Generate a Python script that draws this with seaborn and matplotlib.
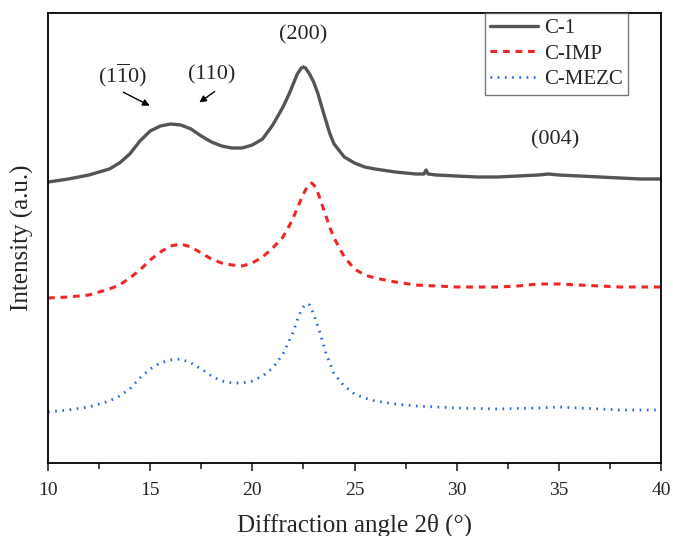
import numpy as np
import pandas as pd
import matplotlib
matplotlib.use("Agg")
import matplotlib.pyplot as plt
import seaborn as sns

# values (intensity in arbitrary units, curves already offset)
c1_x = [10, 11, 12, 12.5, 13, 13.5, 14, 14.5, 15, 15.5, 16, 16.5, 17, 17.5, 18, 18.5, 19, 19.5,
        20, 20.5, 21, 21.5, 21.8, 22, 22.2, 22.4, 22.5, 22.6, 22.8, 23, 23.2, 23.5, 23.8, 24,
        24.5, 25, 25.5, 26, 27, 28, 28.4, 28.5, 28.6, 29, 30, 31, 32, 33, 34, 34.5, 35, 36, 37,
        38, 39, 40]
c1_y = [280, 283, 287, 290, 293, 299, 308, 321, 331, 336, 338, 337, 333, 326, 320, 316, 314, 314,
        317, 323, 337, 355, 368, 378, 388, 394, 395, 394, 388, 380, 369, 348, 328, 318,
        305, 299, 295, 293, 290, 288, 288, 292, 288, 287, 286, 285, 285, 286, 287, 288, 287, 286, 285,
        284, 283, 283]

imp_x = [10, 11, 12, 12.5, 13, 13.5, 14, 14.5, 15, 15.5, 16, 16.5, 17, 17.5, 18, 18.5, 19, 19.5,
         20, 20.5, 21, 21.5, 21.8, 22, 22.2, 22.5, 22.7, 22.9, 23.1, 23.3, 23.5, 23.8, 24, 24.5,
         25, 25.5, 26, 27, 28, 29, 30, 32, 33, 34, 35, 36, 37, 38, 39, 40]
imp_y = [164, 165, 167, 170, 173, 177, 184, 192, 202, 210, 216, 218, 215, 209, 203, 199, 197, 196,
         199, 205, 214, 225, 236, 244, 254, 268, 276, 279, 275, 264, 252, 234, 224, 205,
         193, 187, 184, 180, 177, 176, 175, 175, 176, 178, 178, 177, 176, 175, 175, 175]

mezc_x = [10, 11, 12, 12.5, 13, 13.5, 14, 14.5, 15, 15.5, 16, 16.5, 17, 17.5, 18, 18.5, 19, 19.5,
          20, 20.5, 21, 21.5, 21.8, 22, 22.2, 22.4, 22.6, 22.8, 23, 23.3, 23.6, 24, 24.5, 25,
          25.5, 26, 27, 28, 30, 32, 34, 35, 36, 38, 40]
mezc_y = [50, 52, 55, 58, 61, 66, 73, 84, 93, 99, 102, 103, 99, 93, 86, 81, 79, 79,
          81, 86, 94, 108, 121, 130, 142, 152, 158, 157, 148, 130, 109, 88, 76, 68,
          64, 61, 58, 56, 54, 53, 54, 55, 54, 52, 52]

x_ticks = [10, 15, 20, 25, 30, 35, 40]

sns.set_style("ticks")
plt.rcParams['font.family'] = ['Liberation Serif', 'DejaVu Serif']
plt.rcParams['mathtext.fontset'] = 'custom'
plt.rcParams['mathtext.rm'] = 'Liberation Serif'

fig = plt.figure(figsize=(6.73, 5.36), dpi=100)
ax = fig.add_axes([48 / 673, 1 - 463 / 536, 613 / 673, 450 / 536])

sns.lineplot(x=c1_x, y=c1_y, ax=ax, color='#555555', lw=2.4, label='C-1')
sns.lineplot(x=imp_x, y=imp_y, ax=ax, color='#f02525', lw=2.2, label='C-IMP',
             linestyle=(0, (2.2, 1.9)))
sns.lineplot(x=mezc_x, y=mezc_y, ax=ax, color='#2a6ad8', lw=2.0, label='C-MEZC',
             linestyle=(0, (0.6, 2.0)))

ax.set_xlim(10, 40)
ax.set_ylim(-1, 449)
ax.set_xticks(x_ticks)
ax.set_xticks(np.arange(12.5, 40, 5), minor=True)
ax.set_yticks([])
ax.tick_params(axis='x', which='major', direction='out', length=6, width=1.2, labelsize=14, pad=8)
ax.tick_params(axis='x', which='minor', direction='out', length=4, width=1.2)
for s in ax.spines.values():
    s.set_visible(True)
    s.set_linewidth(1.3)
    s.set_color('black')

ax.set_xlabel('Diffraction angle 2θ (°)', fontsize=18, labelpad=10)
ax.set_ylabel('Intensity (a.u.)', fontsize=18, labelpad=10)

ax.text(13.67, 387, r'$\mathrm{(1\overline{1}0)}$', fontsize=16, ha='center', va='center')
ax.text(18.03, 387, '(110)', fontsize=16, ha='center', va='center')
ax.text(22.5, 427, '(200)', fontsize=16, ha='center', va='center')
ax.text(34.8, 322, '(004)', fontsize=16, ha='center', va='center')
ax.annotate('', xy=(15.1, 355), xytext=(13.57, 371),
            arrowprops=dict(arrowstyle='-|>', color='black', lw=1, mutation_scale=10))
ax.annotate('', xy=(17.29, 358), xytext=(18.27, 372),
            arrowprops=dict(arrowstyle='-|>', color='black', lw=1, mutation_scale=10))

leg = ax.legend(loc='upper right', bbox_to_anchor=(0.946, 1.0), borderaxespad=0,
                fontsize=15, frameon=True, fancybox=False, handlelength=2.3,
                handletextpad=0.3, labelspacing=0.3, borderpad=0.25)
leg.get_frame().set_edgecolor('#555555')
leg.get_frame().set_linewidth(1.0)

fig.savefig('out.png', dpi=100)
